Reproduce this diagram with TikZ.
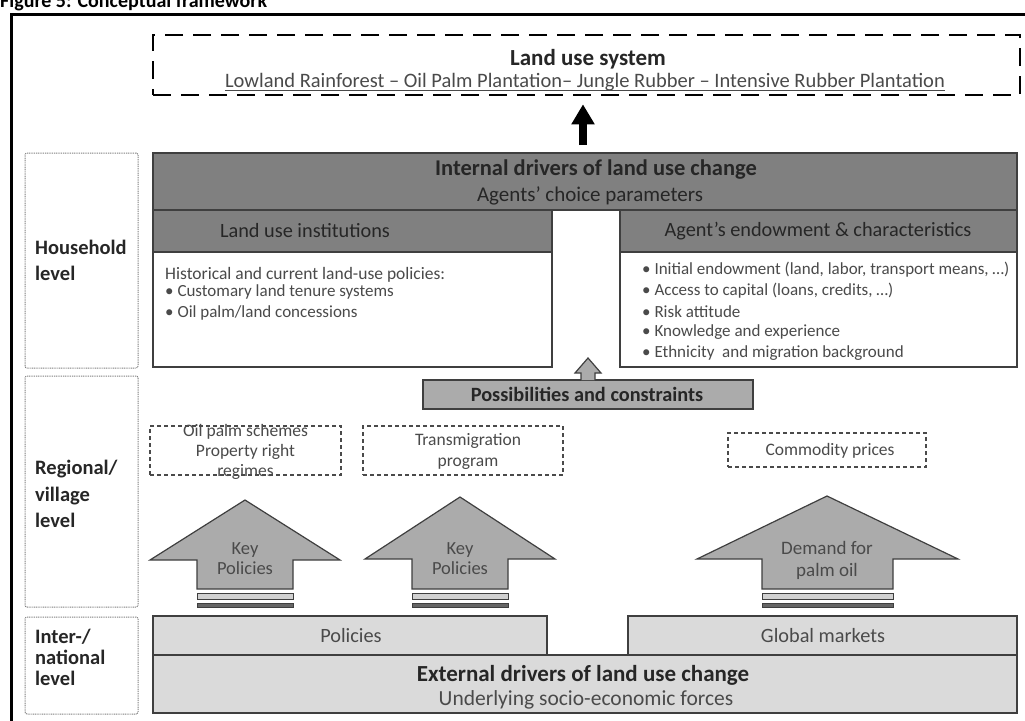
\documentclass[tikz,border=0pt]{standalone}
\usepackage{fontspec}
\setmainfont{Carlito}
\usetikzlibrary{arrows.meta}
\definecolor{dk}{HTML}{808080}
\definecolor{md}{HTML}{ABABAB}
\definecolor{lt}{HTML}{DADADA}
\definecolor{ol}{HTML}{3F3F3F}
\definecolor{tx}{HTML}{262626}
\definecolor{gt}{HTML}{4A4A4A}
\begin{document}
\begin{tikzpicture}[x=1pt,y=-1pt,
  box/.style={draw=ol, line width=1.3pt, inner sep=0pt, outer sep=0pt},
  lvl/.style={draw=gray, line width=1pt, dash pattern=on 1pt off 0.8pt, rounded corners=2pt, inner sep=0pt},
  dbox/.style={draw=gt, line width=1.1pt, dash pattern=on 4pt off 3pt, inner sep=0pt},
  ttl/.style={font=\fontsize{23}{26}\selectfont\bfseries, text=tx, inner sep=0pt},
  sub/.style={font=\fontsize{21}{24}\selectfont, text=gt, inner sep=0pt},
  hdr/.style={font=\fontsize{20.3}{24}\selectfont, text=tx, inner sep=0pt},
  itm/.style={font=\fontsize{17}{20}\selectfont, text=gt, inner sep=0pt, anchor=west},
  lvt/.style={font=\fontsize{20.5}{25.5}\selectfont\bfseries, text=tx, inner sep=0pt, anchor=north west, align=left},
  sml/.style={font=\fontsize{17.5}{20}\selectfont, text=gt, inner sep=0pt, align=center},
  blk/.style={draw=ol, line width=1.2pt, fill=md, line join=miter},
]
\useasboundingbox (0,0) rectangle (1025,720);
\clip (0,0) rectangle (1025,720);
% caption and frame
\node[anchor=base west, inner sep=0pt, font=\fontsize{20}{22}\selectfont\bfseries] (cap) at (0,8) {Figure 5: Conceptual framework};
\draw[line width=3pt] (11.5,730) -- (11.5,14.5) -- (1030,14.5);

% level boxes
\node[lvl, minimum width=113, minimum height=215] (hh) at (81.5,260.5) {};
\node[lvl, minimum width=113, minimum height=231] (rv) at (81.5,491.5) {};
\node[lvl, minimum width=113, minimum height=97] (inl) at (81.5,665.5) {};
\node[lvt] (hht) at (35,240) {Household\\level};
\node[lvt, font=\fontsize{20.5}{26.5}\selectfont\bfseries] (rvt) at (35,460) {Regional/\\village\\level};
\node[lvt, font=\fontsize{20.5}{21}\selectfont\bfseries] (inlt) at (35,629) {Inter-/\\national\\level};

% land use system
\node[draw=black, line width=2.6pt, dash pattern=on 18pt off 10pt, minimum width=867, minimum height=60, inner sep=0pt] (lus) at (586.5,65) {};
\node[ttl] (lust) at (588,59) {Land use system};
\node[sub, font=\fontsize{20.5}{24}\selectfont] (luss) at (585,82) {Lowland Rainforest – Oil Palm Plantation– Jungle Rubber – Intensive Rubber Plantation};
\draw[gt, line width=0.9pt] ([yshift=-3pt]luss.base west) -- ([yshift=-3pt]luss.base east);

% internal drivers
\node[box, fill=dk, minimum width=864, minimum height=57] (int) at (585,181.5) {};
\node[ttl, font=\fontsize{22.5}{26}\selectfont\bfseries] (intt) at (596,170) {Internal drivers of land use change};
\node[sub, text=tx] (ints) at (590,196) {Agents’ choice parameters};
\node[box, fill=dk, minimum width=399, minimum height=42] (luih) at (352.5,231) {};
\node[hdr] (luiht) at (305,231) {Land use institutions};
\node[box, fill=white, minimum width=399, minimum height=115] (luib) at (352.5,309.5) {};
\node[box, fill=dk, minimum width=397, minimum height=42] (agh) at (818.5,231) {};
\node[hdr] (aght) at (818,231) {Agent’s endowment \& characteristics};
\node[box, fill=white, minimum width=397, minimum height=115] (agb) at (818.5,309.5) {};

\node[itm, font=\fontsize{17.5}{20}\selectfont] (l1) at (165,275) {Historical and current land-use policies:};
\node[itm] (l2) at (165,292) {• Customary land tenure systems};
\node[itm] (l3) at (165,313) {• Oil palm/land concessions};

\node[itm] (r1) at (642,270) {• Initial endowment (land, labor, transport means, …)};
\node[itm] (r2) at (642,291) {• Access to capital (loans, credits, …)};
\node[itm] (r3) at (642,312) {• Risk attitude};
\node[itm] (r4) at (642,332) {• Knowledge and experience};
\node[itm] (r5) at (642,353) {• Ethnicity\ \ and migration background};

% black arrow
\draw[line width=8pt, -{Triangle[width=22pt,length=20pt]}] ([xshift=-2pt,yshift=8pt]int.north) -- ([xshift=-2pt,yshift=-8pt]int.north |- lus.south);

% possibilities
\node[box, fill=md, minimum width=330, minimum height=29] (pc) at (588,394.5) {};
\node[font=\fontsize{20.3}{24}\selectfont\bfseries, text=tx, inner sep=0pt] (pct) at (587,394.5) {Possibilities and constraints};
\draw[blk] (581,380) -- (581,373) -- (575,373) -- (588,358) -- (601,373) -- (595,373) -- (595,380);

% dashed boxes
\node[dbox, minimum width=191, minimum height=49] (op) at (245.5,450.5) {};
\node[sml] (opt) at (245.5,452) {Oil palm schemes\\Property right\\regimes};
\node[dbox, minimum width=200, minimum height=49] (tm) at (463,450.5) {};
\node[sml, font=\fontsize{17.5}{21}\selectfont] (tmt) at (468,451) {Transmigration\\program};
\node[dbox, minimum width=198, minimum height=34] (cp) at (827,450) {};
\node[sml] (cpt) at (830,451) {Commodity prices};

% big block arrows
\draw[blk] (245,500) -- (340,560) -- (293,560) -- (293,589) -- (197,589) -- (197,560) -- (150,560) -- cycle;
\draw[blk] (460,497) -- (555,559) -- (508,559) -- (508,589) -- (412,589) -- (412,559) -- (365,559) -- cycle;
\draw[blk] (827,496) -- (958,559) -- (893,559) -- (893,589) -- (762,589) -- (762,559) -- (697,559) -- cycle;
\foreach \a/\b in {197/293, 412/508, 762/893}{
  \draw[draw=ol, line width=1pt, fill=lt!80!md] (\a,593) rectangle (\b,599);
  \draw[draw=ol, line width=1pt, fill=dk!80!black] (\a,603) rectangle (\b,607);
}
\node[sml, font=\fontsize{18.5}{20}\selectfont] (k1) at (245,559) {Key\\Policies};
\node[sml, font=\fontsize{18.5}{20}\selectfont] (k2) at (460,559) {Key\\Policies};
\node[sml, font=\fontsize{19}{22}\selectfont] (k3) at (827,560) {Demand for\\palm oil};

% external
\node[box, fill=lt, minimum width=394, minimum height=39] (pol) at (350,635.5) {};
\node[hdr, text=gt] (polt) at (351,636) {Policies};
\node[box, fill=lt, minimum width=389, minimum height=39] (gm) at (822.5,635.5) {};
\node[hdr, text=gt] (gmt) at (823,636) {Global markets};
\node[box, fill=lt, minimum width=864, minimum height=58] (ext) at (585,684) {};
\node[ttl] (extt) at (583,675) {External drivers of land use change};
\node[sub, font=\fontsize{21.5}{24}\selectfont] (exts) at (586,700) {Underlying socio-economic forces};
\end{tikzpicture}
\end{document}
